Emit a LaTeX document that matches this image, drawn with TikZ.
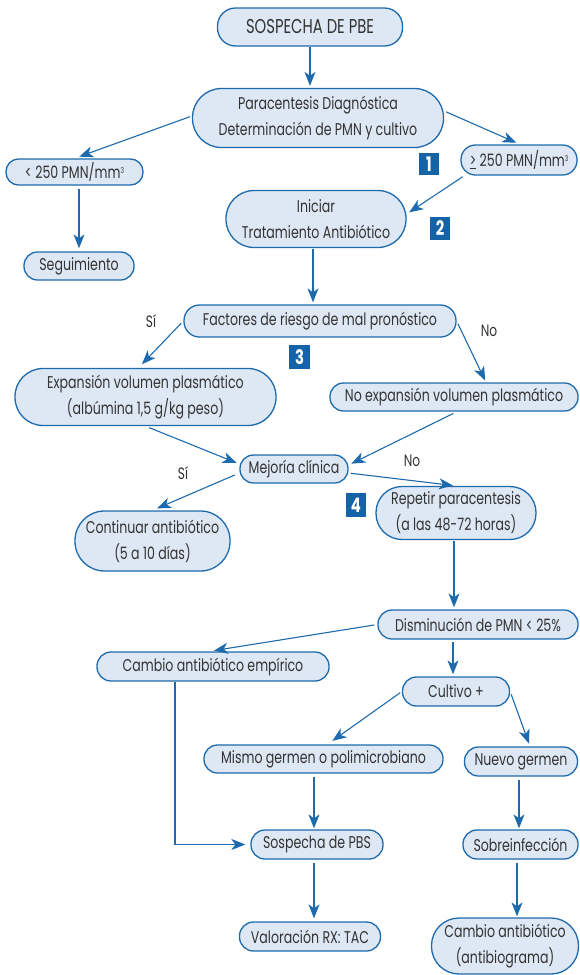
\documentclass[tikz,border=0pt]{standalone}
\usepackage{fontspec}
\setmainfont[FakeStretch=0.74]{Poppins}
\usetikzlibrary{arrows.meta,calc}
\definecolor{boxfill}{HTML}{DDE8F4}
\definecolor{boxline}{HTML}{1D6AAD}
\definecolor{arr}{HTML}{1D6AAD}
\definecolor{sq}{HTML}{1463A6}
\definecolor{txt}{HTML}{333333}
\newcommand{\cubed}{\raisebox{5pt}{\fontsize{8}{8}\selectfont 3}}
\begin{document}
\begin{tikzpicture}[x=1pt,y=-1pt,
  box/.style={draw=boxline, fill=boxfill, line width=1.3pt, text=txt, align=center,
    inner sep=0pt, font=\fontsize{17}{26}\selectfont},
  sqbox/.style={fill=sq, text=white, inner sep=0pt, font=\fontsize{20}{20}\selectfont\bfseries},
  lbl/.style={text=txt, inner sep=0pt, font=\fontsize{16.5}{18}\selectfont},
  arw/.style={draw=arr, line width=1.1pt, -{Stealth[length=14pt,width=11pt,inset=4pt]}},
]
\useasboundingbox (0,0) rectangle (580,975);

% nodes
\node[box, minimum width=185pt, minimum height=38pt, rounded corners=18pt, font=\fontsize{20}{24}\selectfont] (s1) at (310,27) {SOSPECHA DE PBE};
\node[box, minimum width=251pt, minimum height=59pt, rounded corners=29pt] (par) at (318,118) {Paracentesis Diagnóstica\\Determinación de PMN y cultivo};
\node[box, minimum width=137pt, minimum height=26pt, rounded corners=12.5pt] (lt) at (74.5,172) {< 250 PMN/mm\cubed};
\node[box, minimum width=116pt, minimum height=30pt, rounded corners=14.5pt] (ge) at (519,160) {\underline{>} 250 PMN/mm\cubed};
\node[sqbox, minimum width=20pt, minimum height=22pt] (q1) at (429,164) {1};
\node[box, minimum width=180pt, minimum height=57pt, rounded corners=28pt] (ini) at (316,219) {Iniciar\\Tratamiento Antibiótico};
\node[sqbox, minimum width=20pt, minimum height=23pt] (q2) at (440,228.5) {2};
\node[box, minimum width=110pt, minimum height=28pt, rounded corners=13.5pt] (seg) at (79,266) {Seguimiento};
\node[box, minimum width=272pt, minimum height=32pt, rounded corners=15.5pt] (fac) at (320,321) {Factores de riesgo de mal pronóstico};
\node[sqbox, minimum width=21pt, minimum height=24pt] (q3) at (299.5,357) {3};
\node[box, minimum width=261pt, minimum height=57pt, rounded corners=28pt] (exp) at (145.5,397) {Expansión volumen plasmático\\(albúmina 1,5 g/kg peso)};
\node[box, minimum width=248pt, minimum height=28pt, rounded corners=13.5pt] (noexp) at (454,397) {No expansión volumen plasmático};
\node[box, minimum width=108pt, minimum height=28pt, rounded corners=13.5pt] (mej) at (294,469) {Mejoría clínica};
\node[sqbox, minimum width=20pt, minimum height=24pt] (q4) at (356,505) {4};
\node[box, minimum width=155pt, minimum height=60pt, rounded corners=29.5pt] (cont) at (152.5,541) {Continuar antibiótico\\(5 a 10 días)};
\node[box, minimum width=160pt, minimum height=53pt, rounded corners=26pt] (rep) at (456,513) {Repetir paracentesis\\(a las 48-72 horas)};
\node[box, minimum width=200pt, minimum height=29pt, rounded corners=14pt] (dis) at (478,624.5) {Disminución de PMN < 25\%};
\node[box, minimum width=232pt, minimum height=29pt, rounded corners=14pt] (cam) at (213,666.5) {Cambio antibiótico empírico};
\node[box, minimum width=107pt, minimum height=29pt, rounded corners=14pt] (cul) at (456,691.5) {Cultivo +};
\node[box, minimum width=239pt, minimum height=28pt, rounded corners=13.5pt] (mis) at (323.5,759) {Mismo germen o polimicrobiano};
\node[box, minimum width=113pt, minimum height=29pt, rounded corners=14pt] (nue) at (521,761.5) {Nuevo germen};
\node[box, minimum width=132pt, minimum height=29pt, rounded corners=14pt] (pbs) at (317,844.5) {Sospecha de PBS};
\node[box, minimum width=115pt, minimum height=29pt, rounded corners=14pt] (sob) at (520.5,844.5) {Sobreinfección};
\node[box, minimum width=141pt, minimum height=29pt, rounded corners=14pt] (val) at (310,936.5) {Valoración RX: TAC};
\node[box, minimum width=147pt, minimum height=56pt, rounded corners=27.5pt] (cab) at (505,946) {Cambio antibiótico\\(antibiograma)};

% labels
\node[lbl] (si1) at (151,321) {Sí};
\node[lbl] (no1) at (489,331) {No};
\node[lbl] (si2) at (183,473) {Sí};
\node[lbl] (no2) at (412,461) {No};

% connectors
\draw[arw, shorten >=2pt] (s1.south) -- (s1.south |- par.north);
\draw[arw, shorten <=2pt, shorten >=5pt] ([yshift=2pt]par.west) -- (lt.north);
\draw[arw, shorten <=2pt, shorten >=4pt] ([yshift=7pt]par.east) -- ([xshift=1pt]ge.north);
\draw[arw, shorten <=3pt, shorten >=3pt] (seg.north |- lt.south) -- (seg.north);
\draw[arw, shorten <=2pt, shorten >=3pt] ([xshift=4pt]ge.south west) -- ([yshift=5pt]ini.east);
\draw[arw, shorten <=1pt, shorten >=2pt] ([xshift=-3pt]ini.south) -- ([xshift=-3pt]ini.south |- fac.north);
\draw[arw, shorten <=3pt, shorten >=5pt] (fac.west) -- ([xshift=-7pt]exp.north);
\draw[arw, shorten <=3pt, shorten >=2pt] (fac.east) -- ([xshift=32pt]noexp.north);
\draw[arw, shorten <=4pt, shorten >=3pt] (exp.south) -- ([yshift=5pt]mej.west);
\draw[arw, shorten <=4pt, shorten >=3pt] ([xshift=3pt]noexp.south) -- ([yshift=4pt]mej.east);
\draw[arw, shorten <=5pt, shorten >=5pt] ([yshift=-4pt]mej.west) -- (cont.north);
\draw[arw, shorten <=2pt, shorten >=3pt] ([yshift=-4pt]mej.east) -- (rep.north);
\draw[arw, shorten <=1pt, shorten >=2pt] ([xshift=-2pt]rep.south) -- ([xshift=-2pt]rep.south |- dis.north);
\draw[arw, shorten <=3pt, shorten >=5pt] (dis.west) -- ([xshift=-4pt]cam.north);
\draw[arw, shorten <=2pt, shorten >=2pt] ([xshift=-25pt]dis.south) -- ([xshift=-25pt]dis.south |- cul.north);
\draw[arw, shorten <=2pt, shorten >=6pt] (cul.west) -- ([xshift=4pt]mis.north);
\draw[arw, shorten <=3pt, shorten >=3pt] (cul.east) -- ([xshift=9pt]nue.north);
\draw[arw, shorten <=3pt, shorten >=1pt] ([xshift=-9.5pt]mis.south) -- ([xshift=-9.5pt]mis.south |- pbs.north);
\draw[arw, shorten <=3pt, shorten >=1pt] ([xshift=-2pt]nue.south) -- ([xshift=-2pt]nue.south |- sob.north);
\draw[arw, shorten >=5pt] ([xshift=-38pt]cam.south) |- (pbs.west);
\draw[arw, shorten <=3pt, shorten >=3pt] ([xshift=-3pt]pbs.south) -- ([xshift=-3pt]pbs.south |- val.north);
\draw[arw, shorten <=3pt, shorten >=1pt] ([xshift=-3.5pt]sob.south) -- ([xshift=-3.5pt]sob.south |- cab.north);
\end{tikzpicture}
\end{document}
